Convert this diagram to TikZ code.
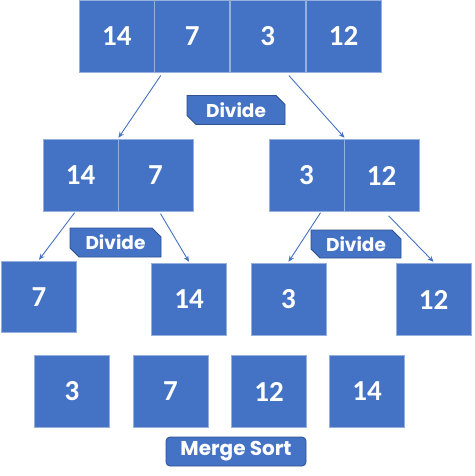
\documentclass[tikz,border=0pt]{standalone}
\usepackage{fontspec}
\setmainfont{Carlito}[BoldFont={Carlito Bold}]
\newfontfamily\numfont{Carlito}[BoldFont={Carlito Bold}]
\newfontfamily\lblfont{Poppins}
\usetikzlibrary{shapes.misc,calc,arrows.meta}
\definecolor{cellblue}{RGB}{68,114,196}
\definecolor{celledge}{RGB}{150,176,222}
\definecolor{lbledge}{RGB}{47,82,143}
\tikzset{
  cell/.style={rectangle, fill=cellblue, draw=celledge, line width=0.9pt,
    minimum width=75pt, minimum height=71.5pt, inner sep=0pt,
    text=white, font=\numfont\bfseries\fontsize{29}{29}\selectfont},
  snip/.style={chamfered rectangle, chamfered rectangle corners={north east,south west},
    chamfered rectangle xsep=4.5pt, chamfered rectangle ysep=4.5pt,
    fill=cellblue, draw=lbledge, line width=0.8pt, inner sep=0pt,
    text=white, font=\lblfont\bfseries\fontsize{18.5}{18.5}\selectfont},
  roundlbl/.style={rectangle, rounded corners=4pt, fill=cellblue, draw=lbledge,
    line width=0.8pt, inner sep=0pt, text=white,
    font=\lblfont\bfseries\fontsize{20}{20}\selectfont},
  arr/.style={draw=cellblue, line width=0.9pt, -{Stealth[length=6pt,width=5pt]}}
}
\begin{document}
\begin{tikzpicture}[x=1pt,y=-1pt]
\useasboundingbox (0,0) rectangle (474,476);
% top row
\node[cell] (t1) at (116.8,36.3) {14};
\node[cell] (t2) at (192.2,36.3) {7};
\node[cell] (t3) at (267.8,36.3) {3};
\node[cell] (t4) at (343.5,36.3) {12};
% middle row
\node[cell] (m1) at (80.5,175.5) {14};
\node[cell] (m2) at (155.5,175.5) {7};
\node[cell] (m3) at (306.5,175.5) {3};
\node[cell] (m4) at (381.5,175.5) {12};
% third row
\node[cell] (b1) at (39,297) {7};
\node[cell] (b2) at (189,299.5) {14};
\node[cell] (b3) at (288.5,299.5) {3};
\node[cell] (b4) at (433.5,299.5) {12};
% sorted row
\node[cell] (s1) at (72,391.5) {3};
\node[cell] (s2) at (170.5,391.5) {7};
\node[cell] (s3) at (269,391.5) {12};
\node[cell] (s4) at (367,391.5) {14};
% labels
\node[snip, minimum width=98pt, minimum height=29pt] (d1) at (236,110) {Divide};
\node[snip, minimum width=91pt, minimum height=29pt] (d2) at (115.5,242.5) {Divide};
\node[snip, minimum width=90pt, minimum height=28pt] (d3) at (356,244) {Divide};
\node[roundlbl, minimum width=140pt, minimum height=29pt] (ms) at (236,451.5) {Merge Sort};
% arrow start points
\coordinate (a1) at ($(t2.south west)+(6.5,3)$);
\coordinate (a2) at ($(t3.south west)+(59,3)$);
\coordinate (a3) at ($(m1.south west)+(32,1)$);
\coordinate (a4) at ($(m2.south west)+(43,2)$);
\coordinate (a5) at ($(m3.south west)+(52,1)$);
\coordinate (a6) at ($(m4.south west)+(45,4)$);
\draw[arr] (a1) -- ([yshift=1.5pt]m1.north east);
\draw[arr] (a2) -- ([yshift=1.5pt]m3.north east);
\draw[arr] (a3) -- ([yshift=1pt]b1.north);
\draw[arr] (a4) -- ([yshift=1.5pt]b2.north);
\draw[arr] (a5) -- ([yshift=1.5pt]b3.north);
\draw[arr] (a6) -- ([yshift=1.5pt]b4.north);
\end{tikzpicture}
\end{document}
